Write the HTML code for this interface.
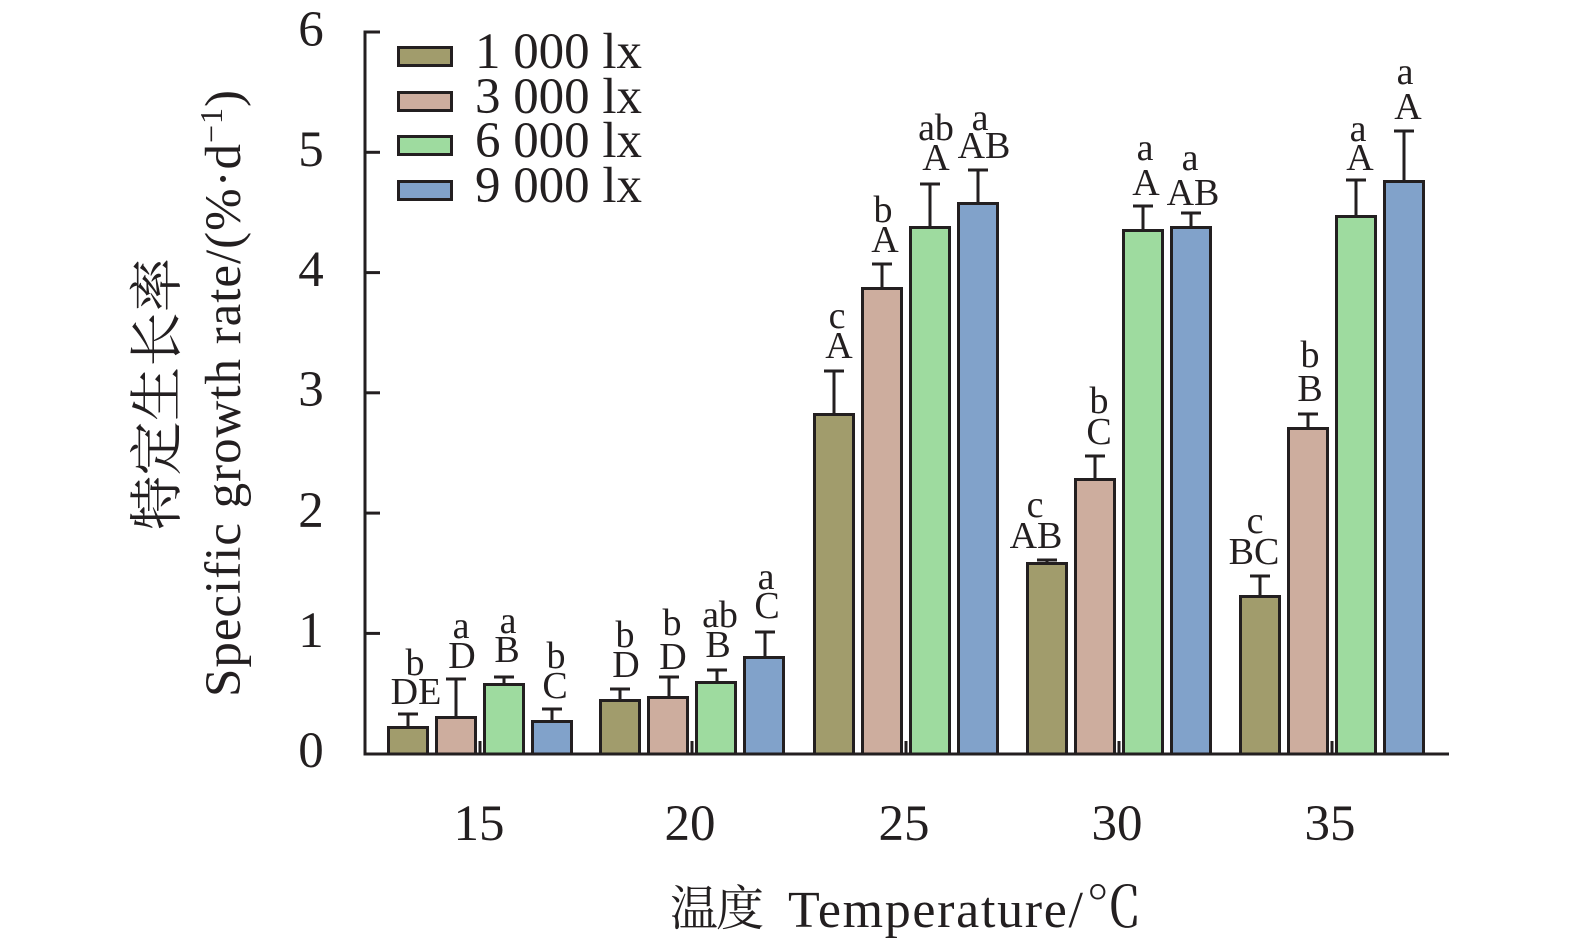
<!DOCTYPE html>
<html><head><meta charset="utf-8"><style>
html,body{margin:0;padding:0;background:#fff;}
svg{display:block;}
text{font-family:"Liberation Serif","Noto Serif CJK SC",serif;fill:#231f20;}
.cjk{font-family:"Noto Serif CJK SC","Liberation Serif",serif;}
</style></head><body>
<svg width="1575" height="946" viewBox="0 0 1575 946" xmlns="http://www.w3.org/2000/svg">
<rect width="1575" height="946" fill="#fff"/>
<g stroke="#231f20" stroke-width="3" fill="none">
<line x1="365" y1="30.5" x2="365" y2="755.5"/>
<line x1="363.5" y1="754" x2="1449" y2="754"/>
<line x1="365" y1="32" x2="380" y2="32"/>
<line x1="365" y1="152.3" x2="380" y2="152.3"/>
<line x1="365" y1="272.6" x2="380" y2="272.6"/>
<line x1="365" y1="392.8" x2="380" y2="392.8"/>
<line x1="365" y1="513.1" x2="380" y2="513.1"/>
<line x1="365" y1="633.4" x2="380" y2="633.4"/>
<line x1="480" y1="754" x2="480" y2="741"/>
<line x1="692" y1="754" x2="692" y2="741"/>
<line x1="906" y1="754" x2="906" y2="741"/>
<line x1="1119" y1="754" x2="1119" y2="741"/>
<line x1="1332" y1="754" x2="1332" y2="741"/>
</g>
<g font-size="51" text-anchor="middle">
<text x="311" y="46">6</text>
<text x="311" y="166">5</text>
<text x="311" y="286">4</text>
<text x="311" y="406">3</text>
<text x="311" y="527">2</text>
<text x="311" y="647">1</text>
<text x="311" y="767">0</text>
<text x="479" y="840">15</text>
<text x="690" y="840">20</text>
<text x="904" y="840">25</text>
<text x="1117" y="840">30</text>
<text x="1330" y="840">35</text>
</g>
<g stroke="#231f20" stroke-width="3">
<rect x="388.5" y="727.5" width="39" height="26.5" fill="#a19c6c"/>
<rect x="436.5" y="717.5" width="39" height="36.5" fill="#cdad9e"/>
<rect x="484.5" y="684.5" width="39" height="69.5" fill="#9edb9f"/>
<rect x="532.5" y="721.5" width="39" height="32.5" fill="#81a2ca"/>
<rect x="600.5" y="700.5" width="39" height="53.5" fill="#a19c6c"/>
<rect x="648.5" y="697.5" width="39" height="56.5" fill="#cdad9e"/>
<rect x="696.5" y="682.5" width="39" height="71.5" fill="#9edb9f"/>
<rect x="744.5" y="657.5" width="39" height="96.5" fill="#81a2ca"/>
<rect x="814.5" y="414.5" width="39" height="339.5" fill="#a19c6c"/>
<rect x="862.5" y="288.5" width="39" height="465.5" fill="#cdad9e"/>
<rect x="910.5" y="227.5" width="39" height="526.5" fill="#9edb9f"/>
<rect x="958.5" y="203.5" width="39" height="550.5" fill="#81a2ca"/>
<rect x="1027.5" y="563.5" width="39" height="190.5" fill="#a19c6c"/>
<rect x="1075.5" y="479.5" width="39" height="274.5" fill="#cdad9e"/>
<rect x="1123.5" y="230.5" width="39" height="523.5" fill="#9edb9f"/>
<rect x="1171.5" y="227.5" width="39" height="526.5" fill="#81a2ca"/>
<rect x="1240.5" y="596.5" width="39" height="157.5" fill="#a19c6c"/>
<rect x="1288.5" y="428.5" width="39" height="325.5" fill="#cdad9e"/>
<rect x="1336.5" y="216.5" width="39" height="537.5" fill="#9edb9f"/>
<rect x="1384.5" y="181.5" width="39" height="572.5" fill="#81a2ca"/>
</g>
<g stroke="#231f20" stroke-width="3" fill="none">
<path d="M408 726V714M398 714H418"/>
<path d="M456 716V679M446 679H466"/>
<path d="M504 683V677M494 677H514"/>
<path d="M552 720V709M542 709H562"/>
<path d="M620 699V689M610 689H630"/>
<path d="M669 696V677M659 677H679"/>
<path d="M717 681V670M707 670H727"/>
<path d="M765 656V632M755 632H775"/>
<path d="M834 413V371M824 371H844"/>
<path d="M882 287V264M872 264H892"/>
<path d="M930 226V184M920 184H940"/>
<path d="M978 202V170M968 170H988"/>
<path d="M1047 562V560M1037 560H1057"/>
<path d="M1095 478V456M1085 456H1105"/>
<path d="M1143 229V206M1133 206H1153"/>
<path d="M1191 226V213M1181 213H1201"/>
<path d="M1260 595V576M1250 576H1270"/>
<path d="M1308 427V414M1298 414H1318"/>
<path d="M1356 215V180M1346 180H1366"/>
<path d="M1404 180V131M1394 131H1414"/>
</g>
<g font-size="38" text-anchor="middle">
<text x="416" y="704">DE</text><text x="415" y="675">b</text>
<text x="462" y="668">D</text><text x="461" y="638">a</text>
<text x="507" y="662">B</text><text x="508" y="633">a</text>
<text x="555" y="698">C</text><text x="556" y="668">b</text>
<text x="626" y="677">D</text><text x="625" y="647">b</text>
<text x="673" y="669">D</text><text x="672" y="635">b</text>
<text x="718" y="657">B</text><text x="720" y="627">ab</text>
<text x="767" y="618">C</text><text x="766" y="589">a</text>
<text x="839" y="358">A</text><text x="837" y="328">c</text>
<text x="885" y="252">A</text><text x="883" y="222">b</text>
<text x="936" y="170">A</text><text x="936" y="140">ab</text>
<text x="984" y="158">AB</text><text x="980" y="130">a</text>
<text x="1036" y="548">AB</text><text x="1035" y="517">c</text>
<text x="1099" y="444">C</text><text x="1099" y="413">b</text>
<text x="1146" y="195">A</text><text x="1145" y="160">a</text>
<text x="1193" y="205">AB</text><text x="1190" y="170">a</text>
<text x="1254" y="564">BC</text><text x="1255" y="533">c</text>
<text x="1310" y="401">B</text><text x="1310" y="367">b</text>
<text x="1360" y="170">A</text><text x="1358" y="141">a</text>
<text x="1408" y="119">A</text><text x="1405" y="84">a</text>
</g>
<g stroke="#231f20" stroke-width="3">
<rect x="398.5" y="47.5" width="53" height="18" fill="#a19c6c"/>
<rect x="398.5" y="92.5" width="53" height="18" fill="#cdad9e"/>
<rect x="398.5" y="136.5" width="53" height="18" fill="#9edb9f"/>
<rect x="398.5" y="181.5" width="53" height="18" fill="#81a2ca"/>
</g>
<g font-size="51">
<text x="475" y="68" textLength="167">1 000 lx</text>
<text x="475" y="113" textLength="167">3 000 lx</text>
<text x="475" y="157" textLength="167">6 000 lx</text>
<text x="475" y="202" textLength="167">9 000 lx</text>
</g>
<text class="cjk" x="670" y="925" font-size="48" textLength="94">温度</text>
<text x="788" y="927" font-size="52" textLength="295">Temperature/</text>
<text class="cjk" x="1086" y="927" font-size="56" textLength="56" lengthAdjust="spacingAndGlyphs">℃</text>
<text class="cjk" transform="rotate(-90)" x="-394" y="153" font-size="54" text-anchor="middle" dominant-baseline="central" textLength="272">特定生长率</text>
<text transform="rotate(-90)" x="-697" y="240" font-size="51" textLength="607">Specific growth rate/(%·d<tspan font-size="32" dy="-18">−1</tspan><tspan dy="18">)</tspan></text>
</svg>
</body></html>
